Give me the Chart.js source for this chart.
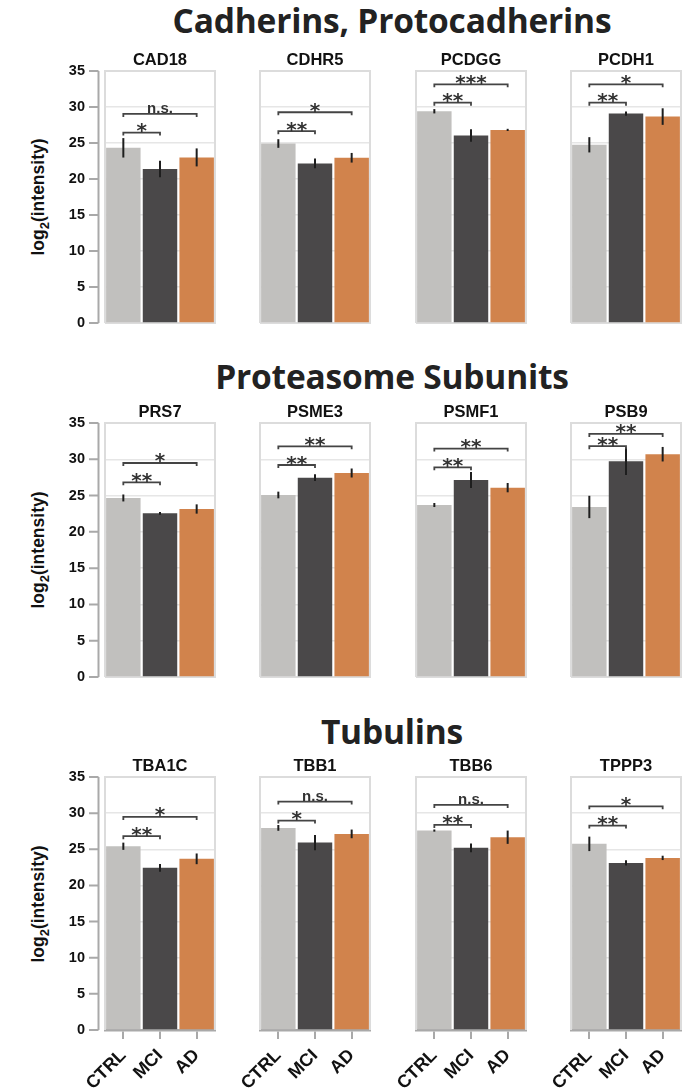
<!DOCTYPE html>
<html><head><meta charset="utf-8">
<script src="https://cdn.jsdelivr.net/npm/chart.js@4"></script>
<style>
html,body{margin:0;padding:0;background:#fff;}
body{width:686px;height:1091px;position:relative;overflow:hidden;}
canvas{position:absolute;}
.sec{position:absolute;left:0;width:784px;text-align:center;font-family:'Open Sans',sans-serif;font-weight:700;font-size:33.5px;line-height:32px;color:#222;white-space:nowrap;letter-spacing:-0.2px;}
.ytitle{position:absolute;width:200px;height:20px;line-height:20px;text-align:center;font:bold 17.5px 'Liberation Sans',Arial,sans-serif;color:#111;transform:rotate(-90deg);white-space:nowrap;}
.ytitle sub{font-size:13px;line-height:0;vertical-align:-5px;}
</style></head><body>
<script>
// ---- data ----
const sectionTitles = ['Cadherins, Protocadherins', 'Proteasome Subunits', 'Tubulins'];
const proteins = ['CAD18','CDHR5','PCDGG','PCDH1','PRS7','PSME3','PSMF1','PSB9','TBA1C','TBB1','TBB6','TPPP3'];
const groups = ['CTRL','MCI','AD'];
const ctrlMean = [24.33, 24.93, 29.41, 24.75, 24.67, 25.08, 23.70, 23.43, 25.42, 27.96, 27.59, 25.75];
const mciMean  = [21.40, 22.16, 26.04, 29.08, 22.55, 27.47, 27.15, 29.72, 22.43, 25.93, 25.20, 23.12];
const adMean   = [23.00, 22.95, 26.82, 28.67, 23.15, 28.11, 26.09, 30.70, 23.68, 27.13, 26.67, 23.81];
const ctrlErr  = [1.35, 0.60, 0.30, 1.06, 0.48, 0.46, 0.28, 1.54, 0.50, 0.40, 0.15, 1.00];
const mciErr   = [1.15, 0.67, 0.88, 0.30, 0.18, 0.46, 1.10, 1.90, 0.53, 1.06, 0.60, 0.35];
const adErr    = [1.25, 0.67, 0.15, 1.15, 0.64, 0.62, 0.64, 1.00, 0.74, 0.60, 0.92, 0.30];
const nearLabel = ['*','**','**','**','**','**','**','**','**','*','**','**'];
const nearY     = [26.45, 26.64, 30.60, 30.60, 26.83, 29.21, 28.89, 31.80, 26.81, 28.97, 28.37, 28.28];
const farLabel  = ['n.s.','*','***','*','*','**','**','**','*','n.s.','n.s.','*'];
const farY      = [29.04, 29.27, 33.15, 33.15, 29.49, 31.79, 31.47, 33.50, 29.48, 31.60, 31.14, 30.95];
const yTicks = [0, 5, 10, 15, 20, 25, 30, 35];

// ---- layout / style ----
const colors = ['#c1c0be', '#4a4849', '#d1834c'];
const FL = [105, 260, 416, 571], FW = 110;
const FT = [71, 423, 777], FH = [252, 254, 253];
const PADT = 32;
const secTop = [3.6, 359.6, 714.6];

sectionTitles.forEach((t, r) => {
  const d = document.createElement('div');
  d.className = 'sec'; d.textContent = t; d.style.top = secTop[r] + 'px';
  document.body.appendChild(d);
  const y = document.createElement('div');
  y.className = 'ytitle';
  y.innerHTML = 'log<sub>2</sub>(intensity)';
  y.style.left = (38 - 100) + 'px';
  y.style.top = (FT[r] + FH[r] / 2 - 10) + 'px';
  document.body.appendChild(y);
});

const decor = {
  id: 'decor',
  beforeDatasetsDraw(chart, args, o) {
    const { ctx, chartArea: a } = chart;
    ctx.save();
    ctx.strokeStyle = '#dcdcdc'; ctx.lineWidth = 2;
    ctx.beginPath();
    ctx.moveTo(a.left, a.bottom); ctx.lineTo(a.left, a.top); ctx.lineTo(a.right, a.top); ctx.lineTo(a.right, a.bottom);
    if (!o.bottomAxis) ctx.lineTo(a.left, a.bottom);
    ctx.stroke();
    if (o.leftAxis) {
      const y = chart.scales.y;
      const ax = a.left - 6.5;
      ctx.strokeStyle = '#a9a9a9'; ctx.lineWidth = 2;
      ctx.beginPath();
      ctx.moveTo(ax, y.getPixelForValue(y.max)); ctx.lineTo(ax, y.getPixelForValue(y.min));
      y.ticks.forEach(t => { const py = y.getPixelForValue(t.value); ctx.moveTo(ax - 9.5, py); ctx.lineTo(ax, py); });
      ctx.stroke();
    }
    ctx.restore();
  },
  afterDatasetsDraw(chart, args, o) {
    const { ctx } = chart; const y = chart.scales.y; const meta = chart.getDatasetMeta(0);
    const p = o.idx;
    const means = [ctrlMean[p], mciMean[p], adMean[p]];
    const errs = [ctrlErr[p], mciErr[p], adErr[p]];
    ctx.save();
    ctx.strokeStyle = '#1e1e1e'; ctx.lineWidth = 2;
    meta.data.forEach((bar, i) => {
      ctx.beginPath();
      ctx.moveTo(bar.x, y.getPixelForValue(means[i] + errs[i]));
      ctx.lineTo(bar.x, y.getPixelForValue(means[i] - errs[i]));
      ctx.stroke();
    });
    const x0 = meta.data[0].x;
    [[1, nearY[p], nearLabel[p]], [2, farY[p], farLabel[p]]].forEach(([j, v, lab]) => {
      const x1 = meta.data[j].x, py = y.getPixelForValue(v);
      ctx.strokeStyle = '#444'; ctx.lineWidth = 1.8;
      ctx.beginPath(); ctx.moveTo(x0, py + 3); ctx.lineTo(x0, py); ctx.lineTo(x1, py); ctx.lineTo(x1, py + 3); ctx.stroke();
      ctx.fillStyle = '#333'; ctx.textAlign = 'center'; ctx.textBaseline = 'alphabetic';
      if (lab.includes('*')) { ctx.font = 'bold 20px "DejaVu Sans"'; ctx.fillText(lab, (x0 + x1) / 2, py + 4.5); }
      else { ctx.font = 'bold 15px "Liberation Sans"'; ctx.fillText(lab, (x0 + x1) / 2, py - 0.5); }
    });
    ctx.restore();
  }
};

for (let p = 0; p < 12; p++) {
  const r = Math.floor(p / 4), c = p % 4;
  const padL = c === 0 ? FL[0] : 40, padR = 4, padB = r < 2 ? 32 : 60;
  const w = padL + FW + padR, h = PADT + FH[r] + padB;
  const cv = document.createElement('canvas');
  cv.width = w; cv.height = h;
  cv.style.left = (FL[c] - padL) + 'px'; cv.style.top = (FT[r] - PADT) + 'px';
  cv.style.width = w + 'px'; cv.style.height = h + 'px';
  document.body.appendChild(cv);
  new Chart(cv, {
    type: 'bar',
    data: { labels: groups, datasets: [{ data: [ctrlMean[p], mciMean[p], adMean[p]], backgroundColor: colors, borderWidth: 0, barPercentage: 0.94, categoryPercentage: 1 }] },
    options: {
      responsive: false, animation: false, devicePixelRatio: 1,
      layout: { padding: { left: 0, right: padR, top: 0, bottom: r < 2 ? padB : 0 } },
      plugins: {
        legend: { display: false }, tooltip: { enabled: false },
        title: { display: true, text: proteins[p], fullSize: false, color: '#111',
          font: { family: 'Liberation Sans', weight: 'bold', size: 16.5, lineHeight: 1.2 }, padding: { top: 11.6, bottom: 0.6 } },
        decor: { idx: p, leftAxis: c === 0, bottomAxis: r === 2 }
      },
      scales: {
        x: { display: r === 2, offset: true,
          grid: { display: true, drawOnChartArea: false, offset: false, color: '#a9a9a9', lineWidth: 2, tickLength: 9 },
          border: { display: true, color: '#a9a9a9', width: 2.5 },
          ticks: { minRotation: 45, maxRotation: 45, autoSkip: false, color: '#111', padding: 6,
            font: { family: 'Liberation Sans', weight: 'bold', size: 18 } },
          afterFit: s => { s.height = r === 2 ? padB : 0; } },
        y: { min: 0, max: 35,
          afterBuildTicks: s => { s.ticks = yTicks.map(v => ({ value: v })); },
          grid: { color: '#e6e6e6', lineWidth: 1.5, drawTicks: false },
          border: { display: false },
          ticks: { display: c === 0, padding: 20, color: '#111', font: { family: 'Liberation Sans', weight: 'bold', size: 14.5 } },
          afterFit: s => { s.width = padL; } }
      }
    },
    plugins: [decor]
  });
}
</script>
</body></html>
